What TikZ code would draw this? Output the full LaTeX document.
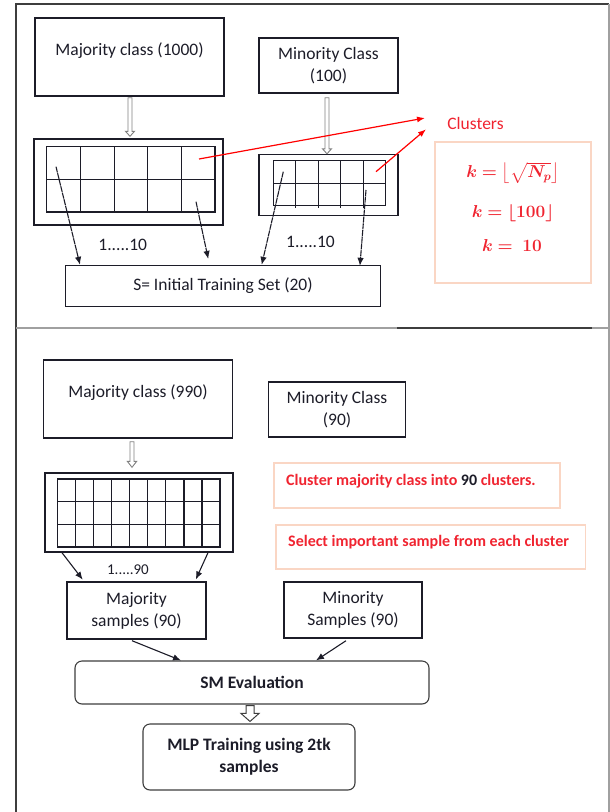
\documentclass[tikz,border=0pt]{standalone}
\usepackage{fontspec}
\setmainfont{Carlito}
\usepackage{amsmath}
\usepackage{bm}
\usetikzlibrary{arrows.meta,calc}

\definecolor{ink}{RGB}{28,28,40}
\definecolor{redtxt}{RGB}{240,36,48}
\definecolor{peach}{RGB}{250,214,196}
\definecolor{framedark}{RGB}{62,62,62}
\definecolor{framelight}{RGB}{160,160,160}

% hollow block arrow: x taken from #1, tip y taken from #2
\newcommand{\hollowdown}[6]{%
  \draw[#6] let \p1=#1, \p2=#2 in
    (\x1-#3,\y1) -- (\x1-#3,\y2+#5) -- (\x1-#4,\y2+#5) -- (\x1,\y2)
    -- (\x1+#4,\y2+#5) -- (\x1+#3,\y2+#5) -- (\x1+#3,\y1) -- cycle;}

\tikzset{
  txt/.style={font=\fontsize{17.5}{22}\selectfont, text=ink, align=center, inner sep=0pt},
  boldtxt/.style={txt, font=\fontsize{17.5}{22}\selectfont\bfseries},
  redlbl/.style={font=\fontsize{16}{20}\selectfont\bfseries, text=redtxt, inner sep=0pt},
  mathlbl/.style={text=redtxt, font=\fontsize{18}{21}\selectfont, inner sep=0pt},
  box/.style={draw=ink, line width=1.4pt, inner sep=0pt},
  roundbox/.style={draw=framedark, line width=1.1pt, rounded corners=7pt, inner sep=0pt},
  notebox/.style={draw=peach, line width=1.3pt, inner sep=0pt},
  gridline/.style={draw=ink, line width=1.2pt},
  flow/.style={draw=ink, line width=1.1pt, -{Latex[length=8pt,width=6.5pt]}},
  flowdash/.style={flow, dash pattern=on 6pt off 0.7pt},
  redarrow/.style={draw=red, line width=1.2pt, -{Latex[length=8pt,width=6pt]}},
  thinblock/.style={draw=gray, fill=white, line width=0.9pt},
  wideblock/.style={draw=framedark, fill=white, line width=1pt},
}

\begin{document}
\begin{tikzpicture}[x=1pt, y=-1pt]
\useasboundingbox (0,0) rectangle (610,812);

% ---------- outer frame ----------
\draw[framedark, line width=1.6pt] (16,812) -- (16,4) -- (609,4);
\draw[framelight, line width=1.2pt] (609,4) -- (609,812);
\draw[framelight, line width=1.4pt] (16,328) -- (397,328);
\draw[framedark, line width=1.4pt] (397,328) -- (592,328);
\draw[framelight, line width=1.4pt] (592,328) -- (609,328);

% ================= upper stage =================
\node[box, minimum width=189pt, minimum height=78pt] (maj1) at (129.5,57) {};
\node[txt] (maj1t) at (129.5,51) {Majority class (1000)};
\node[box, txt, minimum width=139pt, minimum height=55pt] (min1) at (328.5,65.5) {Minority Class\\(100)};

% majority clusters grid
\node[box, minimum width=189pt, minimum height=86pt] (grid1o) at (128.5,182) {};
\draw[gridline] (46.7,146.7) rectangle (215,212);
\foreach \x in {80.4,114.1,147.8,181.4} \draw[gridline] (\x,146.7) -- (\x,212);
\draw[gridline] (46.7,179.3) -- (215,179.3);

% minority clusters grid
\node[box, minimum width=139pt, minimum height=61pt] (grid2o) at (328.5,185) {};
\draw[gridline] (273.3,160.7) rectangle (385.7,205.7);
\foreach \x in {295.8,318.3,340.7,363.2} \draw[gridline] (\x,160.7) -- (\x,207.5);
\draw[gridline] (273.3,183.2) -- (385.7,183.2);

\node[box, txt, minimum width=315pt, minimum height=41pt] (sbox) at (223,286) {S= Initial Training Set (20)};

\hollowdown{($(maj1.south)+(0.5,1)$)}{($(grid1o.north)+(0,-2)$)}{2pt}{4.5pt}{5pt}{thinblock}
\hollowdown{($(min1.south)+(-1.5,4)$)}{(grid2o.north)}{2pt}{4.5pt}{5pt}{thinblock}

\coordinate (g1a) at (56,166.7);
\coordinate (g1b) at (196,201.7);
\coordinate (g2a) at (283.3,171.7);
\coordinate (g2b) at (366,190);
\draw[flowdash] (g1a) -- (80,0 |- sbox.north);
\draw[flowdash, shorten >=6pt] (g1b) -- (209.5,0 |- sbox.north);
\draw[flowdash] (g2a) -- (261.7,0 |- sbox.north);
\draw[flowdash, shorten >=-1pt] (g2b) -- (360,0 |- sbox.north);

\node[txt] (r1) at (122.8,245) {1.....10};
\node[txt] (r2) at (310.5,242) {1.....10};

% cluster count note
\node[txt, text=redtxt] (clusters) at (475.5,123) {Clusters};
\coordinate (cl1) at (425,118);
\coordinate (cl2) at (426,129.3);
\coordinate (g1r) at (199,159);
\coordinate (g2r) at (376,171.7);
\draw[redarrow] (g1r) -- (cl1);
\draw[redarrow] (g2r) -- (cl2);

\node[notebox, minimum width=156pt, minimum height=141pt] (fbox) at (513,212.5) {};
\node[mathlbl] (f1) at (513,173) {$\bm{k=\left\lfloor\sqrt{N_p}\right\rfloor}$};
\node[mathlbl] (f2) at (513,213) {$\bm{k=\lfloor 100\rfloor}$};
\node[mathlbl] (f3) at (512,245) {$\bm{k=\;10}$};

% ================= lower stage =================
\node[box, minimum width=189pt, minimum height=78pt] (maj2) at (138,399) {};
\node[txt] (maj2t) at (138,393) {Majority class (990)};
\node[box, txt, minimum width=137.5pt, minimum height=55pt] (min2) at (337,409.5) {Minority Class\\(90)};

\node[box, minimum width=188pt, minimum height=79pt] (grid3o) at (139,512.5) {};
\draw[gridline] (57.6,479) rectangle (220,547);
\foreach \x in {75.6,93.7,111.7,129.8,147.8,165.8,183.9,201.9} \draw[gridline] (\x,479) -- (\x,547);
\foreach \y in {501.7,524.3} \draw[gridline] (57.6,\y) -- (220,\y);

\hollowdown{($(maj2.south)+(-6,3)$)}{($(grid3o.north)+(0,-5)$)}{2pt}{4.7pt}{6pt}{thinblock}

\node[notebox, minimum width=286pt, minimum height=45pt] (rb1) at (417,485.5) {};
\node[redlbl, anchor=west] (rb1t) at (286,481) {Cluster majority class into \textcolor{ink}{90} clusters.};
\node[notebox, minimum width=309.6pt, minimum height=44pt] (rb2) at (430.8,547) {};
\node[redlbl, anchor=west] (rb2t) at (288,542) {Select important sample from each cluster};

\node[box, txt, minimum width=139pt, minimum height=57pt] (majs) at (136.5,610.5) {Majority\\samples (90)};
\node[box, txt, minimum width=138pt, minimum height=56pt] (mins) at (353,610) {Minority\\Samples (90)};

\node[txt, font=\fontsize{15}{18}\selectfont] (r3) at (128,570) {1.....90};

\draw[flow, shorten >=2pt] (62,0 |- grid3o.south) -- (84,0 |- majs.north);
\draw[flow, shorten >=2pt] (208,0 |- grid3o.south) -- (195,0 |- majs.north);

\node[roundbox, boldtxt, minimum width=354pt, minimum height=43pt] (sm) at (252,682.5) {SM Evaluation};
\node[roundbox, boldtxt, minimum width=212pt, minimum height=66pt] (mlp) at (249,757) {MLP Training using 2tk\\samples};

\draw[flow] ($(132,0 |- majs.south)+(0,1)$) -- (181,0 |- sm.north);
\draw[flow] ($(346,0 |- mins.south)+(0,2)$) -- (316,0 |- sm.north);

\hollowdown{($(sm.south)+(-2,1)$)}{($(mlp.north)+(0,-2)$)}{4pt}{9pt}{8pt}{wideblock}
\end{tikzpicture}
\end{document}
